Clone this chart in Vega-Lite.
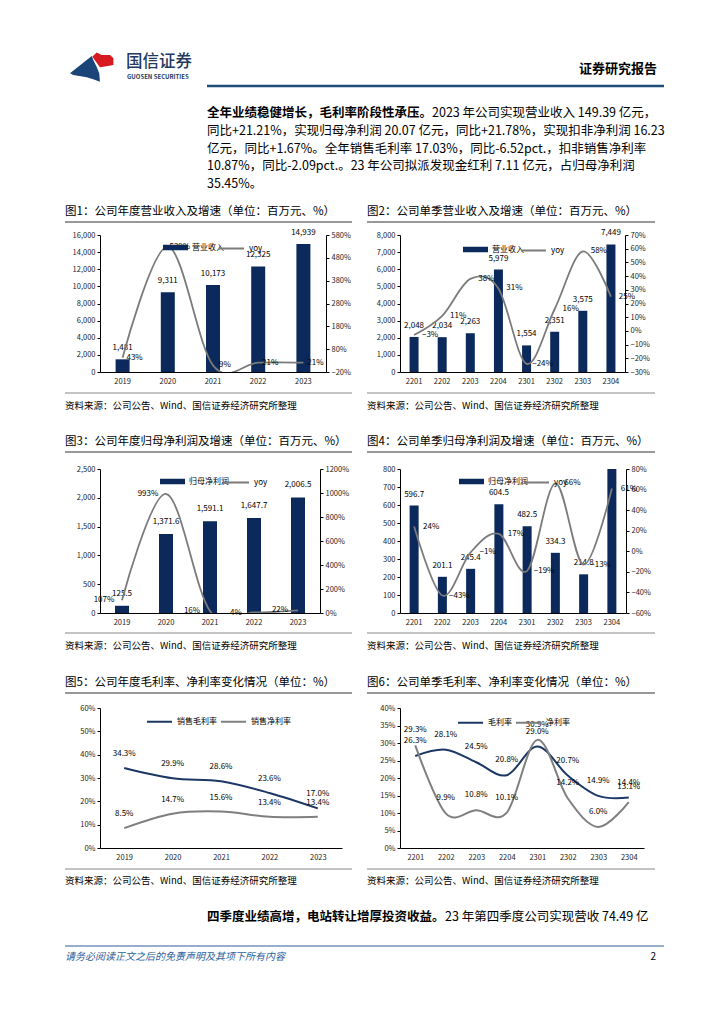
{
  "$schema": "https://vega.github.io/schema/vega-lite/v6.json",
  "padding": 0,
  "background": "white",
  "config": {
    "view": {"stroke": null},
    "font": "Noto Sans CJK SC",
    "text": {"font": "Noto Sans CJK SC"},
    "axis": {"labelFont": "Noto Sans CJK SC", "labelFontSize": 7.5, "labelColor": "#222", "domainColor": "#000", "tickColor": "#000", "grid": false, "title": null, "tickSize": 3, "labelPadding": 2, "labelOverlap": false},
    "axisX": {"ticks": false, "labelAngle": 0, "labelPadding": 5},
    "legend": {"labelFont": "Noto Sans CJK SC", "labelFontSize": 8, "labelColor": "#000", "title": null, "padding": 0}
  },
  "resolve": {"scale": {"fill": "independent", "stroke": "independent"}, "legend": {"fill": "independent", "stroke": "independent"}},
  "vconcat": [
    {
      "width": 724, "height": 95,
      "layer": [
        {"data": {"values": [{"part": "red"}]}, "mark": {"type": "point", "shape": "M-0.03,-0.43L0.15,-0.6L0.36,-0.5L0.71,-0.5L0.85,-0.36L0.85,-0.08L0.43,-0.01L0.29,0.01Z", "filled": true, "color": "#d71920", "opacity": 1, "size": 2304, "strokeWidth": 0}, "encoding": {"x": {"value": 93}, "y": {"value": 67}}},
        {"data": {"values": [{"part": "blue"}]}, "mark": {"type": "point", "shape": "M-0.96,0.26L-0.05,-0.46L0.01,-0.29L0.15,-0.01L0.26,0.26L0.29,0.61L0.01,0.51L-0.26,0.43L-0.82,0.33Z", "filled": true, "color": "#1b4479", "opacity": 1, "size": 2304, "strokeWidth": 0}, "encoding": {"x": {"value": 93}, "y": {"value": 67}}},
        {"data": {"values": [{"t": "国信证券"}]}, "mark": {"type": "text", "align": "left", "baseline": "middle", "fontSize": 16.5, "fontWeight": 500, "color": "#23395d"}, "encoding": {"x": {"value": 126}, "y": {"value": 62}, "text": {"field": "t"}}},
        {"data": {"values": [{"t": "GUOSEN SECURITIES"}]}, "mark": {"type": "text", "align": "left", "baseline": "middle", "fontSize": 6, "fontWeight": "bold", "color": "#23395d"}, "encoding": {"x": {"value": 127}, "y": {"value": 77}, "text": {"field": "t"}}},
        {"data": {"values": [{"t": "证券研究报告"}]}, "mark": {"type": "text", "align": "right", "baseline": "middle", "fontSize": 13, "fontWeight": "bold", "color": "#000"}, "encoding": {"x": {"value": 657}, "y": {"value": 69}, "text": {"field": "t"}}},
        {"data": {"values": [{"part": "line"}]}, "mark": {"type": "rule", "color": "#1f4e79", "strokeWidth": 2.5}, "encoding": {"x": {"value": 207}, "x2": {"value": 664}, "y": {"value": 86}}}
      ]
    },
    {
      "width": 724, "height": 140,
      "layer": [
        {"data": {"values": [{"t": "全年业绩稳健增长，毛利率阶段性承压。"}]}, "mark": {"type": "text", "align": "left", "baseline": "middle", "fontSize": 12.5, "fontWeight": "bold", "color": "#000"}, "encoding": {"x": {"value": 207}, "y": {"value": 18}, "text": {"field": "t"}}},
        {"data": {"values": [{"t": "2023 年公司实现营业收入 149.39 亿元，"}]}, "mark": {"type": "text", "align": "left", "baseline": "middle", "fontSize": 12.5, "color": "#000"}, "encoding": {"x": {"value": 432}, "y": {"value": 18}, "text": {"field": "t"}}},
        {"data": {"values": [
          {"line": 2, "t": "同比+21.21%，实现归母净利润 20.07 亿元，同比+21.78%，实现扣非净利润 16.23"},
          {"line": 3, "t": "亿元，同比+1.67%。全年销售毛利率 17.03%，同比-6.52pct.，扣非销售净利率"},
          {"line": 4, "t": "10.87%，同比-2.09pct.。23 年公司拟派发现金红利 7.11 亿元，占归母净利润"},
          {"line": 5, "t": "35.45%。"}
        ]}, "mark": {"type": "text", "align": "left", "baseline": "middle", "fontSize": 12.5, "color": "#000"}, "encoding": {"x": {"value": 207}, "y": {"field": "line", "type": "quantitative", "scale": {"domain": [2, 5], "range": [36, 89]}, "axis": null}, "text": {"field": "t"}}}
      ]
    },
    {
      "hconcat": [
        {"width": 100, "height": 10, "data": {"values": []}, "mark": "point"},
        {
          "width": 226, "height": 137,
          "data": {"values": [
            {"year": "2019", "rev": 1481, "yoy": 0.43},
            {"year": "2020", "rev": 9311, "yoy": 5.29},
            {"year": "2021", "rev": 10173, "yoy": 0.09},
            {"year": "2022", "rev": 12325, "yoy": 0.21},
            {"year": "2023", "rev": 14939, "yoy": 0.21}
          ]},
          "encoding": {"x": {"field": "year", "type": "ordinal", "scale": {"paddingInner": 0, "paddingOuter": 0}}},
          "layer": [
            {"encoding": {"y": {"field": "rev", "type": "quantitative", "scale": {"domain": [0, 16000]}, "axis": {"values": [0, 2000, 4000, 6000, 8000, 10000, 12000, 14000, 16000], "labelExpr": "format(datum.value, ',')"}}},
             "layer": [
              {"mark": {"type": "bar", "size": 14}, "encoding": {
                "fill": {"datum": "营业收入", "type": "nominal", "scale": {"range": ["#0b2a5b"]}, "legend": {"orient": "none", "legendX": 63, "legendY": 0, "symbolType": "M-1,-0.22H1V0.22H-1Z", "symbolSize": 625, "symbolStrokeWidth": 0}}
              }},
              {"mark": {"type": "text", "dy": -11, "fontSize": 8, "color": "#000"}, "encoding": {"text": {"field": "rev", "format": ","}}}
            ]},
            {"encoding": {"y": {"field": "yoy", "type": "quantitative", "scale": {"domain": [-0.2, 5.8]}, "axis": {"orient": "right", "values": [-0.2, 0.8, 1.8, 2.8, 3.8, 4.8, 5.8], "labelExpr": "format(datum.value, '.0%')"}}},
             "layer": [
              {"mark": {"type": "line", "interpolate": "cardinal", "strokeWidth": 1.8, "clip": true}, "encoding": {
                "stroke": {"datum": "yoy", "type": "nominal", "scale": {"range": ["#7b7b7b"]}, "legend": {"orient": "none", "legendX": 118, "legendY": 0, "symbolType": "stroke", "symbolSize": 625, "symbolStrokeWidth": 2}}
              }},
              {"mark": {"type": "text", "dx": 12, "fontSize": 8, "color": "#000"}, "encoding": {"text": {"field": "yoy", "format": ".0%"}}}
            ]},
            {"data": {"values": [{"t": "图1：公司年度营业收入及增速（单位：百万元、%）"}]}, "mark": {"type": "text", "align": "left", "baseline": "middle", "fontSize": 11.5, "color": "#000"}, "encoding": {"x": {"value": -35}, "y": {"value": -23}, "text": {"field": "t"}}},
            {"data": {"values": [{"t": "资料来源：公司公告、Wind、国信证券经济研究所整理"}]}, "mark": {"type": "text", "align": "left", "baseline": "middle", "fontSize": 9.5, "color": "#000"}, "encoding": {"x": {"value": -35}, "y": {"value": 171}, "text": {"field": "t"}}},
            {"data": {"values": [{"p": "top"}]}, "mark": {"type": "rule", "color": "#333", "strokeWidth": 1}, "encoding": {"x": {"value": -35}, "x2": {"value": 252}, "y": {"value": -13}}},
            {"data": {"values": [{"p": "bottom"}]}, "mark": {"type": "rule", "color": "#888", "strokeWidth": 1}, "encoding": {"x": {"value": -35}, "x2": {"value": 252}, "y": {"value": 158}}}
          ],
          "resolve": {"scale": {"y": "independent"}}
        },
        {"width": 74, "height": 10, "data": {"values": []}, "mark": "point"},
        {
          "width": 225, "height": 137,
          "data": {"values": [
            {"q": "2201", "rev": 2048, "yoy": -0.03},
            {"q": "2202", "rev": 2034, "yoy": 0.11},
            {"q": "2203", "rev": 2263, "yoy": 0.38},
            {"q": "2204", "rev": 5979, "yoy": 0.31},
            {"q": "2301", "rev": 1554, "yoy": -0.24},
            {"q": "2302", "rev": 2351, "yoy": 0.16},
            {"q": "2303", "rev": 3575, "yoy": 0.58},
            {"q": "2304", "rev": 7449, "yoy": 0.25}
          ]},
          "encoding": {"x": {"field": "q", "type": "ordinal", "scale": {"paddingInner": 0, "paddingOuter": 0}}},
          "layer": [
            {"encoding": {"y": {"field": "rev", "type": "quantitative", "scale": {"domain": [0, 8000]}, "axis": {"values": [0, 1000, 2000, 3000, 4000, 5000, 6000, 7000, 8000], "labelExpr": "format(datum.value, ',')"}}},
             "layer": [
              {"mark": {"type": "bar", "size": 9}, "encoding": {
                "fill": {"datum": "营业收入", "type": "nominal", "scale": {"range": ["#0b2a5b"]}, "legend": {"orient": "none", "legendX": 63, "legendY": 2, "symbolType": "M-1,-0.22H1V0.22H-1Z", "symbolSize": 625, "symbolStrokeWidth": 0}}
              }},
              {"mark": {"type": "text", "dy": -11, "fontSize": 8, "color": "#000"}, "encoding": {"text": {"field": "rev", "format": ","}}}
            ]},
            {"encoding": {"y": {"field": "yoy", "type": "quantitative", "scale": {"domain": [-0.3, 0.7]}, "axis": {"orient": "right", "values": [-0.3, -0.2, -0.1, 0, 0.1, 0.2, 0.3, 0.4, 0.5, 0.6, 0.7], "labelExpr": "format(datum.value, '.0%')"}}},
             "layer": [
              {"mark": {"type": "line", "interpolate": "cardinal", "strokeWidth": 1.8, "clip": true}, "encoding": {
                "stroke": {"datum": "yoy", "type": "nominal", "scale": {"range": ["#7b7b7b"]}, "legend": {"orient": "none", "legendX": 120, "legendY": 2, "symbolType": "stroke", "symbolSize": 625, "symbolStrokeWidth": 2}}
              }},
              {"mark": {"type": "text", "dx": 16, "fontSize": 8, "color": "#000"}, "encoding": {"text": {"field": "yoy", "format": ".0%"}}}
            ]},
            {"data": {"values": [{"t": "图2：公司单季营业收入及增速（单位：百万元、%）"}]}, "mark": {"type": "text", "align": "left", "baseline": "middle", "fontSize": 11.5, "color": "#000"}, "encoding": {"x": {"value": -33}, "y": {"value": -23}, "text": {"field": "t"}}},
            {"data": {"values": [{"t": "资料来源：公司公告、Wind、国信证券经济研究所整理"}]}, "mark": {"type": "text", "align": "left", "baseline": "middle", "fontSize": 9.5, "color": "#000"}, "encoding": {"x": {"value": -33}, "y": {"value": 171}, "text": {"field": "t"}}},
            {"data": {"values": [{"p": "top"}]}, "mark": {"type": "rule", "color": "#333", "strokeWidth": 1}, "encoding": {"x": {"value": -33}, "x2": {"value": 255}, "y": {"value": -13}}},
            {"data": {"values": [{"p": "bottom"}]}, "mark": {"type": "rule", "color": "#888", "strokeWidth": 1}, "encoding": {"x": {"value": -33}, "x2": {"value": 255}, "y": {"value": 158}}}
          ],
          "resolve": {"scale": {"y": "independent"}}
        }
      ],
      "spacing": 0, "bounds": "flush",
      "resolve": {"scale": {"fill": "independent", "stroke": "independent"}, "legend": {"fill": "independent", "stroke": "independent"}}
    },
    {"width": 724, "height": 234, "data": {"values": []}, "mark": "point"},
    {
      "hconcat": [
        {"width": 100, "height": 10, "data": {"values": []}, "mark": "point"},
        {
          "width": 220, "height": 144,
          "data": {"values": [
            {"year": "2019", "np": 125.5, "yoy": 1.07},
            {"year": "2020", "np": 1371.6, "yoy": 9.93},
            {"year": "2021", "np": 1591.1, "yoy": 0.16},
            {"year": "2022", "np": 1647.7, "yoy": 0.04},
            {"year": "2023", "np": 2006.5, "yoy": 0.22}
          ]},
          "encoding": {"x": {"field": "year", "type": "ordinal", "scale": {"paddingInner": 0, "paddingOuter": 0}}},
          "layer": [
            {"encoding": {"y": {"field": "np", "type": "quantitative", "scale": {"domain": [0, 2500]}, "axis": {"values": [0, 500, 1000, 1500, 2000, 2500], "labelExpr": "format(datum.value, ',')"}}},
             "layer": [
              {"mark": {"type": "bar", "size": 14}, "encoding": {
                "fill": {"datum": "归母净利润", "type": "nominal", "scale": {"range": ["#0b2a5b"]}, "legend": {"orient": "none", "legendX": 60, "legendY": 0, "symbolType": "M-1,-0.22H1V0.22H-1Z", "symbolSize": 625, "symbolStrokeWidth": 0}}
              }},
              {"mark": {"type": "text", "dy": -12, "fontSize": 8, "color": "#000"}, "encoding": {"text": {"field": "np", "format": ",.1f"}}}
            ]},
            {"encoding": {"y": {"field": "yoy", "type": "quantitative", "scale": {"domain": [0, 12]}, "axis": {"orient": "right", "values": [0, 2, 4, 6, 8, 10, 12], "labelExpr": "format(datum.value, '.0%')"}}},
             "layer": [
              {"mark": {"type": "line", "interpolate": "cardinal", "strokeWidth": 1.8, "clip": true}, "encoding": {
                "stroke": {"datum": "yoy", "type": "nominal", "scale": {"range": ["#7b7b7b"]}, "legend": {"orient": "none", "legendX": 123, "legendY": 0, "symbolType": "stroke", "symbolSize": 625, "symbolStrokeWidth": 2}}
              }},
              {"mark": {"type": "text", "dx": -18, "fontSize": 8, "color": "#000"}, "encoding": {"text": {"field": "yoy", "format": ".0%"}}}
            ]},
            {"data": {"values": [{"t": "图3：公司年度归母净利润及增速（单位：百万元、%）"}]}, "mark": {"type": "text", "align": "left", "baseline": "middle", "fontSize": 11.5, "color": "#000"}, "encoding": {"x": {"value": -35}, "y": {"value": -27}, "text": {"field": "t"}}},
            {"data": {"values": [{"t": "资料来源：公司公告、Wind、国信证券经济研究所整理"}]}, "mark": {"type": "text", "align": "left", "baseline": "middle", "fontSize": 9.5, "color": "#000"}, "encoding": {"x": {"value": -35}, "y": {"value": 177}, "text": {"field": "t"}}},
            {"data": {"values": [{"p": "top"}]}, "mark": {"type": "rule", "color": "#333", "strokeWidth": 1}, "encoding": {"x": {"value": -35}, "x2": {"value": 252}, "y": {"value": -17}}},
            {"data": {"values": [{"p": "bottom"}]}, "mark": {"type": "rule", "color": "#888", "strokeWidth": 1}, "encoding": {"x": {"value": -35}, "x2": {"value": 252}, "y": {"value": 164}}}
          ],
          "resolve": {"scale": {"y": "independent"}}
        },
        {"width": 80, "height": 10, "data": {"values": []}, "mark": "point"},
        {
          "width": 226, "height": 144,
          "data": {"values": [
            {"q": "2201", "np": 596.7, "yoy": 0.24},
            {"q": "2202", "np": 201.1, "yoy": -0.43},
            {"q": "2203", "np": 245.4, "yoy": -0.01},
            {"q": "2204", "np": 604.5, "yoy": 0.17},
            {"q": "2301", "np": 482.5, "yoy": -0.19},
            {"q": "2302", "np": 334.3, "yoy": 0.66},
            {"q": "2303", "np": 214.8, "yoy": -0.13},
            {"q": "2304", "np": 974.9, "yoy": 0.61}
          ]},
          "encoding": {"x": {"field": "q", "type": "ordinal", "scale": {"paddingInner": 0, "paddingOuter": 0}}},
          "layer": [
            {"encoding": {"y": {"field": "np", "type": "quantitative", "scale": {"domain": [0, 800]}, "axis": {"values": [0, 100, 200, 300, 400, 500, 600, 700, 800], "labelExpr": "format(datum.value, ',')"}}},
             "layer": [
              {"mark": {"type": "bar", "size": 9, "clip": true}, "encoding": {
                "fill": {"datum": "归母净利润", "type": "nominal", "scale": {"range": ["#0b2a5b"]}, "legend": {"orient": "none", "legendX": 59, "legendY": 0, "symbolType": "M-1,-0.22H1V0.22H-1Z", "symbolSize": 625, "symbolStrokeWidth": 0}}
              }},
              {"mark": {"type": "text", "dy": -11, "fontSize": 8, "color": "#000", "clip": true}, "encoding": {"text": {"field": "np", "format": ",.1f"}}}
            ]},
            {"encoding": {"y": {"field": "yoy", "type": "quantitative", "scale": {"domain": [-0.6, 0.8]}, "axis": {"orient": "right", "values": [-0.6, -0.4, -0.2, 0, 0.2, 0.4, 0.6, 0.8], "labelExpr": "format(datum.value, '.0%')"}}},
             "layer": [
              {"mark": {"type": "line", "interpolate": "cardinal", "strokeWidth": 1.8, "clip": true}, "encoding": {
                "stroke": {"datum": "yoy", "type": "nominal", "scale": {"range": ["#7b7b7b"]}, "legend": {"orient": "none", "legendX": 123, "legendY": 0, "symbolType": "stroke", "symbolSize": 625, "symbolStrokeWidth": 2}}
              }},
              {"mark": {"type": "text", "dx": 17, "fontSize": 8, "color": "#000"}, "encoding": {"text": {"field": "yoy", "format": ".0%"}}}
            ]},
            {"data": {"values": [{"t": "图4：公司单季归母净利润及增速（单位：百万元、%）"}]}, "mark": {"type": "text", "align": "left", "baseline": "middle", "fontSize": 11.5, "color": "#000"}, "encoding": {"x": {"value": -33}, "y": {"value": -27}, "text": {"field": "t"}}},
            {"data": {"values": [{"t": "资料来源：公司公告、Wind、国信证券经济研究所整理"}]}, "mark": {"type": "text", "align": "left", "baseline": "middle", "fontSize": 9.5, "color": "#000"}, "encoding": {"x": {"value": -33}, "y": {"value": 177}, "text": {"field": "t"}}},
            {"data": {"values": [{"p": "top"}]}, "mark": {"type": "rule", "color": "#333", "strokeWidth": 1}, "encoding": {"x": {"value": -33}, "x2": {"value": 255}, "y": {"value": -17}}},
            {"data": {"values": [{"p": "bottom"}]}, "mark": {"type": "rule", "color": "#888", "strokeWidth": 1}, "encoding": {"x": {"value": -33}, "x2": {"value": 255}, "y": {"value": 164}}}
          ],
          "resolve": {"scale": {"y": "independent"}}
        }
      ],
      "spacing": 0, "bounds": "flush",
      "resolve": {"scale": {"fill": "independent", "stroke": "independent"}, "legend": {"fill": "independent", "stroke": "independent"}}
    },
    {"width": 724, "height": 239, "data": {"values": []}, "mark": "point"},
    {
      "hconcat": [
        {"width": 100, "height": 10, "data": {"values": []}, "mark": "point"},
        {
          "width": 242, "height": 140,
          "data": {"values": [
            {"year": "2019", "series": "销售毛利率", "v": 0.343},
            {"year": "2020", "series": "销售毛利率", "v": 0.299},
            {"year": "2021", "series": "销售毛利率", "v": 0.286},
            {"year": "2022", "series": "销售毛利率", "v": 0.236},
            {"year": "2023", "series": "销售毛利率", "v": 0.170},
            {"year": "2019", "series": "销售净利率", "v": 0.085},
            {"year": "2020", "series": "销售净利率", "v": 0.147},
            {"year": "2021", "series": "销售净利率", "v": 0.156},
            {"year": "2022", "series": "销售净利率", "v": 0.134},
            {"year": "2023", "series": "销售净利率", "v": 0.134}
          ]},
          "encoding": {
            "x": {"field": "year", "type": "ordinal"},
            "y": {"field": "v", "type": "quantitative", "scale": {"domain": [0, 0.6]}, "axis": {"values": [0, 0.1, 0.2, 0.3, 0.4, 0.5, 0.6], "labelExpr": "format(datum.value, '.0%')"}}
          },
          "layer": [
            {"mark": {"type": "line", "interpolate": "cardinal", "strokeWidth": 2}, "encoding": {
              "stroke": {"field": "series", "type": "nominal", "scale": {"domain": ["销售毛利率", "销售净利率"], "range": ["#1b3764", "#7f7f7f"]}, "legend": {"orient": "none", "direction": "horizontal", "legendX": 46, "legendY": 0, "symbolType": "stroke", "symbolSize": 625, "symbolStrokeWidth": 2, "columnPadding": 0}}
            }},
            {"mark": {"type": "text", "dy": -14, "fontSize": 8, "color": "#000"}, "encoding": {"text": {"field": "v", "format": ".1%"}}},
            {"data": {"values": [{"t": "图5：公司年度毛利率、净利率变化情况（单位：%）"}]}, "mark": {"type": "text", "align": "left", "baseline": "middle", "fontSize": 11.5, "color": "#000"}, "encoding": {"x": {"value": -35}, "y": {"value": -25}, "text": {"field": "t"}}},
            {"data": {"values": [{"t": "资料来源：公司公告、Wind、国信证券经济研究所整理"}]}, "mark": {"type": "text", "align": "left", "baseline": "middle", "fontSize": 9.5, "color": "#000"}, "encoding": {"x": {"value": -35}, "y": {"value": 173}, "text": {"field": "t"}}},
            {"data": {"values": [{"p": "top"}]}, "mark": {"type": "rule", "color": "#333", "strokeWidth": 1}, "encoding": {"x": {"value": -35}, "x2": {"value": 252}, "y": {"value": -15}}},
            {"data": {"values": [{"p": "bottom"}]}, "mark": {"type": "rule", "color": "#888", "strokeWidth": 1}, "encoding": {"x": {"value": -35}, "x2": {"value": 252}, "y": {"value": 161}}}
          ]
        },
        {"width": 58, "height": 10, "data": {"values": []}, "mark": "point"},
        {
          "width": 244, "height": 140,
          "data": {"values": [
            {"q": "2201", "series": "毛利率", "v": 0.263},
            {"q": "2202", "series": "毛利率", "v": 0.281},
            {"q": "2203", "series": "毛利率", "v": 0.245},
            {"q": "2204", "series": "毛利率", "v": 0.208},
            {"q": "2301", "series": "毛利率", "v": 0.290},
            {"q": "2302", "series": "毛利率", "v": 0.207},
            {"q": "2303", "series": "毛利率", "v": 0.149},
            {"q": "2304", "series": "毛利率", "v": 0.144},
            {"q": "2201", "series": "净利率", "v": 0.293},
            {"q": "2202", "series": "净利率", "v": 0.099},
            {"q": "2203", "series": "净利率", "v": 0.108},
            {"q": "2204", "series": "净利率", "v": 0.101},
            {"q": "2301", "series": "净利率", "v": 0.309},
            {"q": "2302", "series": "净利率", "v": 0.142},
            {"q": "2303", "series": "净利率", "v": 0.060},
            {"q": "2304", "series": "净利率", "v": 0.131}
          ]},
          "encoding": {
            "x": {"field": "q", "type": "ordinal"},
            "y": {"field": "v", "type": "quantitative", "scale": {"domain": [0, 0.4]}, "axis": {"values": [0, 0.05, 0.1, 0.15, 0.2, 0.25, 0.3, 0.35, 0.4], "labelExpr": "format(datum.value, '.0%')"}}
          },
          "layer": [
            {"mark": {"type": "line", "interpolate": "cardinal", "strokeWidth": 2}, "encoding": {
              "stroke": {"field": "series", "type": "nominal", "scale": {"domain": ["毛利率", "净利率"], "range": ["#1b3764", "#7f7f7f"]}, "legend": {"orient": "none", "direction": "horizontal", "legendX": 57, "legendY": 1, "symbolType": "stroke", "symbolSize": 625, "symbolStrokeWidth": 2, "columnPadding": 0}}
            }},
            {"mark": {"type": "text", "dy": -15, "fontSize": 8, "color": "#000"}, "encoding": {"text": {"field": "v", "format": ".1%"}}},
            {"data": {"values": [{"t": "图6：公司单季毛利率、净利率变化情况（单位：%）"}]}, "mark": {"type": "text", "align": "left", "baseline": "middle", "fontSize": 11.5, "color": "#000"}, "encoding": {"x": {"value": -33}, "y": {"value": -25}, "text": {"field": "t"}}},
            {"data": {"values": [{"t": "资料来源：公司公告、Wind、国信证券经济研究所整理"}]}, "mark": {"type": "text", "align": "left", "baseline": "middle", "fontSize": 9.5, "color": "#000"}, "encoding": {"x": {"value": -33}, "y": {"value": 173}, "text": {"field": "t"}}},
            {"data": {"values": [{"p": "top"}]}, "mark": {"type": "rule", "color": "#333", "strokeWidth": 1}, "encoding": {"x": {"value": -33}, "x2": {"value": 255}, "y": {"value": -15}}},
            {"data": {"values": [{"p": "bottom"}]}, "mark": {"type": "rule", "color": "#888", "strokeWidth": 1}, "encoding": {"x": {"value": -33}, "x2": {"value": 255}, "y": {"value": 161}}}
          ]
        }
      ],
      "spacing": 0, "bounds": "flush",
      "resolve": {"scale": {"stroke": "independent"}, "legend": {"stroke": "independent"}}
    },
    {"width": 724, "height": 140, "data": {"values": []}, "mark": "point"},
    {
      "width": 724, "height": 176,
      "layer": [
        {"data": {"values": [{"t": "四季度业绩高增，电站转让增厚投资收益。"}]}, "mark": {"type": "text", "align": "left", "baseline": "middle", "fontSize": 12.5, "fontWeight": "bold", "color": "#000"}, "encoding": {"x": {"value": 207}, "y": {"value": 69}, "text": {"field": "t"}}},
        {"data": {"values": [{"t": "23 年第四季度公司实现营收 74.49 亿"}]}, "mark": {"type": "text", "align": "left", "baseline": "middle", "fontSize": 12.5, "color": "#000"}, "encoding": {"x": {"value": 445}, "y": {"value": 69}, "text": {"field": "t"}}},
        {"data": {"values": [{"p": "footer"}]}, "mark": {"type": "rule", "color": "#2f5f9a", "strokeWidth": 1}, "encoding": {"x": {"value": 65}, "x2": {"value": 664}, "y": {"value": 98}}},
        {"data": {"values": [{"t": "请务必阅读正文之后的免责声明及其项下所有内容"}]}, "mark": {"type": "text", "align": "left", "baseline": "middle", "fontSize": 10, "fontStyle": "italic", "color": "#2f5f9a"}, "encoding": {"x": {"value": 65}, "y": {"value": 109}, "text": {"field": "t"}}},
        {"data": {"values": [{"t": "2"}]}, "mark": {"type": "text", "align": "right", "baseline": "middle", "fontSize": 10, "color": "#000"}, "encoding": {"x": {"value": 656}, "y": {"value": 109}, "text": {"field": "t"}}}
      ]
    }
  ],
  "spacing": 0,
  "bounds": "flush"
}
